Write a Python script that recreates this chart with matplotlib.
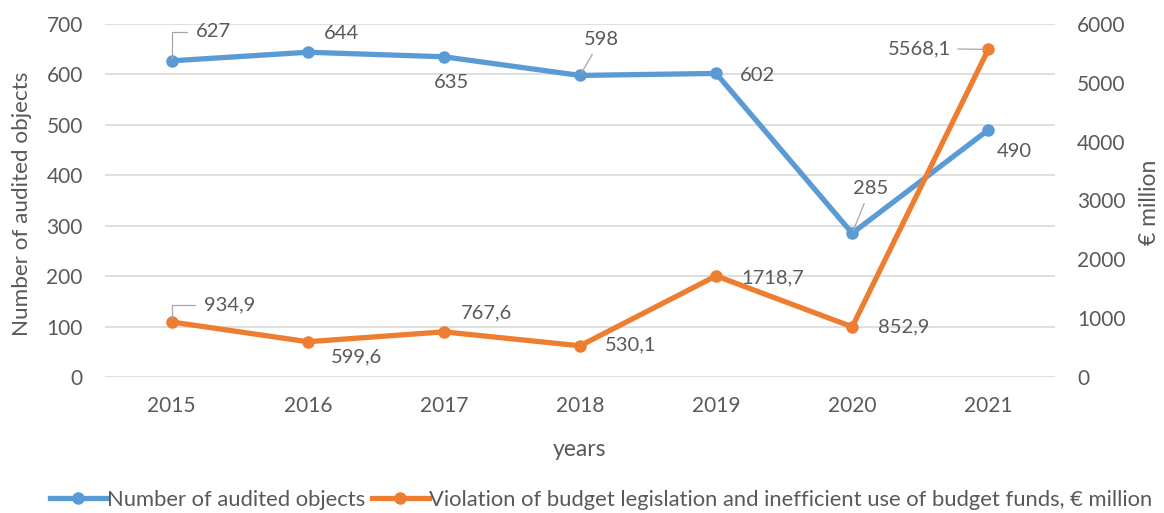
import matplotlib
matplotlib.use("Agg")
import matplotlib.pyplot as plt
from matplotlib.lines import Line2D

# ---- data ----
years = ["2015", "2016", "2017", "2018", "2019", "2020", "2021"]
audited = [627, 644, 635, 598, 602, 285, 490]
violations = [934.9, 599.6, 767.6, 530.1, 1718.7, 852.9, 5568.1]
audited_labels = ["627", "644", "635", "598", "602", "285", "490"]
violation_labels = ["934,9", "599,6", "767,6", "530,1", "1718,7", "852,9", "5568,1"]
left_ticks = [0, 100, 200, 300, 400, 500, 600, 700]
right_ticks = [0, 1000, 2000, 3000, 4000, 5000, 6000]

# label offsets (points) and leader styles
aud_off = [(17.3, 20.9), (24.5, 13.7), (5.8, -18.7), (15.1, 25.9), (29.5, -1.4), (13.0, 32.4), (18.7, -15.8)]
aud_lead = ["angle", None, None, "straight", None, "straight", None]
vio_off = [(23.0, 12.2), (35.3, -10.8), (31.0, 13.7), (36.7, 0.7), (41.0, -1.4), (37.4, 0.0), (-49.7, 0.7)]
vio_lead = ["angle", None, None, None, None, None, "straight"]

BLUE = "#5B9BD5"
ORANGE = "#ED7D31"
TXT = "#595959"
GRID = "#D9D9D9"
LEAD = "#A6A6A6"

plt.rcParams["font.family"] = ["Lato", "DejaVu Sans"]

fig = plt.figure(figsize=(11.64, 5.13), dpi=100)
ax = fig.add_axes([105 / 1164, 1 - 377 / 513, 950 / 1164, 353 / 513])
ax2 = ax.twinx()

x = list(range(len(years)))
ax.plot(x, audited, color=BLUE, lw=3.8, marker="o", ms=8, solid_capstyle="round", zorder=3)
ax2.plot(x, violations, color=ORANGE, lw=3.8, marker="o", ms=8, solid_capstyle="round", zorder=3)

ax.set_xlim(-0.49, 6.49)
ax.set_ylim(0, 700)
ax2.set_ylim(0, 6000)
ax.set_xticks(x)
ax.set_xticklabels(years)
ax.set_yticks(left_ticks)
ax2.set_yticks(right_ticks)
ax.yaxis.grid(True, color=GRID, lw=1.2)
ax.set_axisbelow(True)
for a in (ax, ax2):
    for s in a.spines.values():
        s.set_visible(False)
    a.tick_params(length=0, labelsize=15, labelcolor=TXT)
ax.tick_params(axis="y", pad=16)
ax2.tick_params(axis="y", pad=16)
ax.tick_params(axis="x", pad=14)


def add_labels(axis, xs, ys, labels, offs, leads):
    for xi, yi, lab, off, lead in zip(xs, ys, labels, offs, leads):
        kw = dict(xytext=off, textcoords="offset points", fontsize=14.5,
                  color=TXT, va="center", zorder=5)
        if lead == "angle":
            axis.annotate(lab, (xi, yi), ha="left",
                          arrowprops=dict(arrowstyle="-", color=LEAD, lw=0.9,
                                          connectionstyle="angle,angleA=0,angleB=90,rad=0",
                                          shrinkA=4, shrinkB=2), **kw)
        elif lead == "straight":
            axis.annotate(lab, (xi, yi), ha="center",
                          arrowprops=dict(arrowstyle="-", color=LEAD, lw=0.9,
                                          shrinkA=3, shrinkB=2), **kw)
        else:
            axis.annotate(lab, (xi, yi), ha="center", **kw)


add_labels(ax, x, audited, audited_labels, aud_off, aud_lead)
add_labels(ax2, x, violations, violation_labels, vio_off, vio_lead)

fig.text(22 / 1164, 1 - 204 / 513, "Number of audited objects", rotation=90,
         ha="center", va="center", fontsize=16.2, color=TXT)
fig.text(1150 / 1164, 1 - 202 / 513, "€ million", rotation=90,
         ha="center", va="center", fontsize=16.5, color=TXT)
fig.text(580 / 1164, 1 - 449 / 513, "years", ha="center", va="center",
         fontsize=16.5, color=TXT)

handles = [Line2D([0], [0], color=BLUE, lw=3.8, marker="o", ms=8),
           Line2D([0], [0], color=ORANGE, lw=3.8, marker="o", ms=8)]
fig.legend(handles, ["Number of audited objects",
                     "Violation of budget legislation and inefficient use of budget funds, € million"],
           loc="center", bbox_to_anchor=(601 / 1164, 1 - 500 / 513), ncol=2, frameon=False,
           fontsize=15.8, labelcolor=TXT, handlelength=2.6, handletextpad=0.0,
           columnspacing=0.3, borderaxespad=0)

fig.savefig("out.png", dpi=100)
